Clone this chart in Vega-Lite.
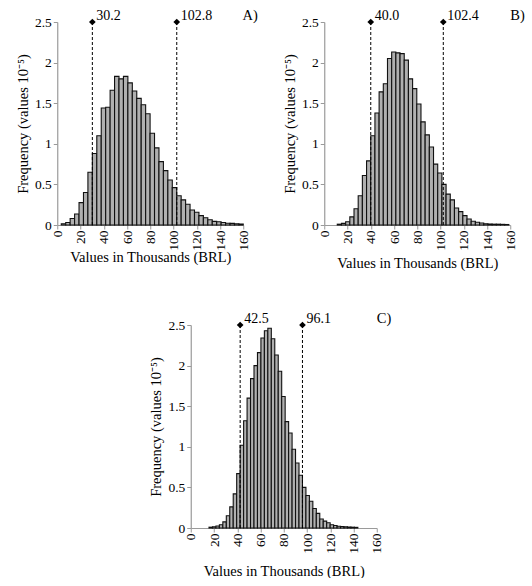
{
  "$schema": "https://vega.github.io/schema/vega-lite/v6.json",
  "padding": {"left": 15, "top": 7, "right": 5, "bottom": 0},
  "background": "white",
  "datasets": {
    "hist": [
      {"panel": "A", "lo": 3.46, "hi": 7.28, "freq": 0.015},
      {"panel": "A", "lo": 7.28, "hi": 11.10, "freq": 0.03},
      {"panel": "A", "lo": 11.10, "hi": 14.92, "freq": 0.08},
      {"panel": "A", "lo": 14.92, "hi": 18.74, "freq": 0.135},
      {"panel": "A", "lo": 18.74, "hi": 22.56, "freq": 0.275},
      {"panel": "A", "lo": 22.56, "hi": 26.38, "freq": 0.40},
      {"panel": "A", "lo": 26.38, "hi": 30.20, "freq": 0.65},
      {"panel": "A", "lo": 30.20, "hi": 34.02, "freq": 0.88},
      {"panel": "A", "lo": 34.02, "hi": 37.84, "freq": 1.10},
      {"panel": "A", "lo": 37.84, "hi": 41.66, "freq": 1.44},
      {"panel": "A", "lo": 41.66, "hi": 45.48, "freq": 1.45},
      {"panel": "A", "lo": 45.48, "hi": 49.30, "freq": 1.66},
      {"panel": "A", "lo": 49.30, "hi": 53.12, "freq": 1.83},
      {"panel": "A", "lo": 53.12, "hi": 56.94, "freq": 1.80},
      {"panel": "A", "lo": 56.94, "hi": 60.76, "freq": 1.83},
      {"panel": "A", "lo": 60.76, "hi": 64.58, "freq": 1.75},
      {"panel": "A", "lo": 64.58, "hi": 68.40, "freq": 1.65},
      {"panel": "A", "lo": 68.40, "hi": 72.22, "freq": 1.56},
      {"panel": "A", "lo": 72.22, "hi": 76.04, "freq": 1.48},
      {"panel": "A", "lo": 76.04, "hi": 79.86, "freq": 1.37},
      {"panel": "A", "lo": 79.86, "hi": 83.68, "freq": 1.13},
      {"panel": "A", "lo": 83.68, "hi": 87.50, "freq": 0.95},
      {"panel": "A", "lo": 87.50, "hi": 91.32, "freq": 0.78},
      {"panel": "A", "lo": 91.32, "hi": 95.14, "freq": 0.67},
      {"panel": "A", "lo": 95.14, "hi": 98.96, "freq": 0.555},
      {"panel": "A", "lo": 98.96, "hi": 102.78, "freq": 0.46},
      {"panel": "A", "lo": 102.78, "hi": 106.60, "freq": 0.36},
      {"panel": "A", "lo": 106.60, "hi": 110.42, "freq": 0.31},
      {"panel": "A", "lo": 110.42, "hi": 114.24, "freq": 0.255},
      {"panel": "A", "lo": 114.24, "hi": 118.06, "freq": 0.185},
      {"panel": "A", "lo": 118.06, "hi": 121.88, "freq": 0.157},
      {"panel": "A", "lo": 121.88, "hi": 125.70, "freq": 0.116},
      {"panel": "A", "lo": 125.70, "hi": 129.52, "freq": 0.09},
      {"panel": "A", "lo": 129.52, "hi": 133.34, "freq": 0.065},
      {"panel": "A", "lo": 133.34, "hi": 137.16, "freq": 0.045},
      {"panel": "A", "lo": 137.16, "hi": 140.98, "freq": 0.04},
      {"panel": "A", "lo": 140.98, "hi": 144.80, "freq": 0.03},
      {"panel": "A", "lo": 144.80, "hi": 148.62, "freq": 0.022},
      {"panel": "A", "lo": 148.62, "hi": 152.44, "freq": 0.02},
      {"panel": "A", "lo": 152.44, "hi": 156.26, "freq": 0.015},
      {"panel": "A", "lo": 156.26, "hi": 160.00, "freq": 0.012},

      {"panel": "B", "lo": 11.2, "hi": 14.8, "freq": 0.01},
      {"panel": "B", "lo": 14.8, "hi": 18.4, "freq": 0.02},
      {"panel": "B", "lo": 18.4, "hi": 22.0, "freq": 0.04},
      {"panel": "B", "lo": 22.0, "hi": 25.6, "freq": 0.10},
      {"panel": "B", "lo": 25.6, "hi": 29.2, "freq": 0.20},
      {"panel": "B", "lo": 29.2, "hi": 32.8, "freq": 0.36},
      {"panel": "B", "lo": 32.8, "hi": 36.4, "freq": 0.61},
      {"panel": "B", "lo": 36.4, "hi": 40.0, "freq": 0.79},
      {"panel": "B", "lo": 40.0, "hi": 43.6, "freq": 1.10},
      {"panel": "B", "lo": 43.6, "hi": 47.2, "freq": 1.38},
      {"panel": "B", "lo": 47.2, "hi": 50.8, "freq": 1.64},
      {"panel": "B", "lo": 50.8, "hi": 54.4, "freq": 1.74},
      {"panel": "B", "lo": 54.4, "hi": 58.0, "freq": 2.05},
      {"panel": "B", "lo": 58.0, "hi": 61.6, "freq": 2.13},
      {"panel": "B", "lo": 61.6, "hi": 65.2, "freq": 2.12},
      {"panel": "B", "lo": 65.2, "hi": 68.8, "freq": 2.11},
      {"panel": "B", "lo": 68.8, "hi": 72.4, "freq": 2.03},
      {"panel": "B", "lo": 72.4, "hi": 76.0, "freq": 1.80},
      {"panel": "B", "lo": 76.0, "hi": 79.6, "freq": 1.68},
      {"panel": "B", "lo": 79.6, "hi": 83.2, "freq": 1.49},
      {"panel": "B", "lo": 83.2, "hi": 86.8, "freq": 1.27},
      {"panel": "B", "lo": 86.8, "hi": 90.4, "freq": 1.11},
      {"panel": "B", "lo": 90.4, "hi": 94.0, "freq": 0.96},
      {"panel": "B", "lo": 94.0, "hi": 97.6, "freq": 0.75},
      {"panel": "B", "lo": 97.6, "hi": 101.2, "freq": 0.64},
      {"panel": "B", "lo": 101.2, "hi": 104.8, "freq": 0.50},
      {"panel": "B", "lo": 104.8, "hi": 108.4, "freq": 0.38},
      {"panel": "B", "lo": 108.4, "hi": 112.0, "freq": 0.31},
      {"panel": "B", "lo": 112.0, "hi": 115.6, "freq": 0.21},
      {"panel": "B", "lo": 115.6, "hi": 119.2, "freq": 0.165},
      {"panel": "B", "lo": 119.2, "hi": 122.8, "freq": 0.116},
      {"panel": "B", "lo": 122.8, "hi": 126.4, "freq": 0.074},
      {"panel": "B", "lo": 126.4, "hi": 130.0, "freq": 0.046},
      {"panel": "B", "lo": 130.0, "hi": 133.6, "freq": 0.033},
      {"panel": "B", "lo": 133.6, "hi": 137.2, "freq": 0.025},
      {"panel": "B", "lo": 137.2, "hi": 140.8, "freq": 0.016},
      {"panel": "B", "lo": 140.8, "hi": 144.4, "freq": 0.012},
      {"panel": "B", "lo": 144.4, "hi": 148.0, "freq": 0.01},
      {"panel": "B", "lo": 148.0, "hi": 151.6, "freq": 0.01},
      {"panel": "B", "lo": 151.6, "hi": 155.2, "freq": 0.008},
      {"panel": "B", "lo": 155.2, "hi": 158.8, "freq": 0.006},

      {"panel": "C", "lo": 15.70, "hi": 18.68, "freq": 0.01},
      {"panel": "C", "lo": 18.68, "hi": 21.66, "freq": 0.015},
      {"panel": "C", "lo": 21.66, "hi": 24.63, "freq": 0.025},
      {"panel": "C", "lo": 24.63, "hi": 27.61, "freq": 0.04},
      {"panel": "C", "lo": 27.61, "hi": 30.59, "freq": 0.075},
      {"panel": "C", "lo": 30.59, "hi": 33.57, "freq": 0.15},
      {"panel": "C", "lo": 33.57, "hi": 36.54, "freq": 0.26},
      {"panel": "C", "lo": 36.54, "hi": 39.52, "freq": 0.42},
      {"panel": "C", "lo": 39.52, "hi": 42.50, "freq": 0.67},
      {"panel": "C", "lo": 42.50, "hi": 45.48, "freq": 1.02},
      {"panel": "C", "lo": 45.48, "hi": 48.46, "freq": 1.32},
      {"panel": "C", "lo": 48.46, "hi": 51.43, "freq": 1.60},
      {"panel": "C", "lo": 51.43, "hi": 54.41, "freq": 1.84},
      {"panel": "C", "lo": 54.41, "hi": 57.39, "freq": 2.00},
      {"panel": "C", "lo": 57.39, "hi": 60.37, "freq": 2.16},
      {"panel": "C", "lo": 60.37, "hi": 63.34, "freq": 2.34},
      {"panel": "C", "lo": 63.34, "hi": 66.32, "freq": 2.43},
      {"panel": "C", "lo": 66.32, "hi": 69.30, "freq": 2.46},
      {"panel": "C", "lo": 69.30, "hi": 72.28, "freq": 2.33},
      {"panel": "C", "lo": 72.28, "hi": 75.26, "freq": 2.13},
      {"panel": "C", "lo": 75.26, "hi": 78.23, "freq": 1.93},
      {"panel": "C", "lo": 78.23, "hi": 81.21, "freq": 1.62},
      {"panel": "C", "lo": 81.21, "hi": 84.19, "freq": 1.31},
      {"panel": "C", "lo": 84.19, "hi": 87.17, "freq": 1.17},
      {"panel": "C", "lo": 87.17, "hi": 90.14, "freq": 0.97},
      {"panel": "C", "lo": 90.14, "hi": 93.12, "freq": 0.80},
      {"panel": "C", "lo": 93.12, "hi": 96.10, "freq": 0.65},
      {"panel": "C", "lo": 96.10, "hi": 99.08, "freq": 0.50},
      {"panel": "C", "lo": 99.08, "hi": 102.06, "freq": 0.40},
      {"panel": "C", "lo": 102.06, "hi": 105.03, "freq": 0.33},
      {"panel": "C", "lo": 105.03, "hi": 108.01, "freq": 0.24},
      {"panel": "C", "lo": 108.01, "hi": 110.99, "freq": 0.18},
      {"panel": "C", "lo": 110.99, "hi": 113.97, "freq": 0.11},
      {"panel": "C", "lo": 113.97, "hi": 116.94, "freq": 0.085},
      {"panel": "C", "lo": 116.94, "hi": 119.92, "freq": 0.065},
      {"panel": "C", "lo": 119.92, "hi": 122.90, "freq": 0.04},
      {"panel": "C", "lo": 122.90, "hi": 125.88, "freq": 0.03},
      {"panel": "C", "lo": 125.88, "hi": 128.86, "freq": 0.022},
      {"panel": "C", "lo": 128.86, "hi": 131.83, "freq": 0.018},
      {"panel": "C", "lo": 131.83, "hi": 134.81, "freq": 0.015},
      {"panel": "C", "lo": 134.81, "hi": 137.79, "freq": 0.012},
      {"panel": "C", "lo": 137.79, "hi": 140.77, "freq": 0.01},
      {"panel": "C", "lo": 140.77, "hi": 143.74, "freq": 0.008}
    ],
    "cuts": [
      {"panel": "A", "value": 30.2},
      {"panel": "A", "value": 102.8},
      {"panel": "B", "value": 40.0},
      {"panel": "B", "value": 102.4},
      {"panel": "C", "value": 42.5},
      {"panel": "C", "value": 96.1}
    ]
  },
  "vconcat": [
    {
      "hconcat": [
        {
          "width": 186, "height": 203,
          "title": {"text": "A)", "dx": 8},
          "layer": [
            {
              "data": {"name": "hist"},
              "transform": [{"filter": "datum.panel === 'A'"}],
              "mark": {"type": "bar", "fill": "#b0b0b0", "stroke": "#111111", "strokeWidth": 1.1},
              "encoding": {
                "x": {"field": "lo", "type": "quantitative", "scale": {"domain": [0, 160], "nice": false},
                      "axis": {"values": [0, 20, 40, 60, 80, 100, 120, 140, 160], "labelAngle": -90, "labelOverlap": false, "labelSeparation": 0, "labelFlush": false, "labelPadding": 1, "titlePadding": 0, "title": "Values in Thousands (BRL)"}},
                "x2": {"field": "hi"},
                "y": {"field": "freq", "type": "quantitative", "scale": {"domain": [0, 2.5], "nice": false},
                      "axis": {"values": [0, 0.5, 1, 1.5, 2, 2.5], "format": "~g", "title": "Frequency (values 10⁻⁵)"}},
                "y2": {"datum": 0}
              }
            },
            {
              "data": {"name": "cuts"},
              "transform": [{"filter": "datum.panel === 'A'"}],
              "mark": {"type": "rule", "color": "black", "strokeWidth": 1, "strokeDash": [3, 2]},
              "encoding": {
                "x": {"field": "value", "type": "quantitative",
                      "axis": {"values": [0, 20, 40, 60, 80, 100, 120, 140, 160], "labelAngle": -90, "labelOverlap": false, "labelSeparation": 0, "labelFlush": false, "labelPadding": 1, "titlePadding": 0, "title": "Values in Thousands (BRL)"}},
                "y": {"datum": 0}, "y2": {"datum": 2.5}
              }
            },
            {
              "data": {"name": "cuts"},
              "transform": [{"filter": "datum.panel === 'A'"}],
              "mark": {"type": "point", "shape": "diamond", "filled": true, "color": "black", "size": 45, "opacity": 1},
              "encoding": {
                "x": {"field": "value", "type": "quantitative",
                      "axis": {"values": [0, 20, 40, 60, 80, 100, 120, 140, 160], "labelAngle": -90, "labelOverlap": false, "labelSeparation": 0, "labelFlush": false, "labelPadding": 1, "titlePadding": 0, "title": "Values in Thousands (BRL)"}},
                "y": {"datum": 2.5}
              }
            },
            {
              "data": {"name": "cuts"},
              "transform": [{"filter": "datum.panel === 'A'"}],
              "mark": {"type": "text", "align": "left", "baseline": "alphabetic", "dx": 4, "dy": -2, "fontSize": 14, "font": "Liberation Serif"},
              "encoding": {
                "x": {"field": "value", "type": "quantitative",
                      "axis": {"values": [0, 20, 40, 60, 80, 100, 120, 140, 160], "labelAngle": -90, "labelOverlap": false, "labelSeparation": 0, "labelFlush": false, "labelPadding": 1, "titlePadding": 0, "title": "Values in Thousands (BRL)"}},
                "y": {"datum": 2.5},
                "text": {"field": "value", "format": ".1f"}
              }
            }
          ]
        },
        {
          "width": 186, "height": 203,
          "title": {"text": "B)", "dx": 8},
          "layer": [
            {
              "data": {"name": "hist"},
              "transform": [{"filter": "datum.panel === 'B'"}],
              "mark": {"type": "bar", "fill": "#b0b0b0", "stroke": "#111111", "strokeWidth": 1.1},
              "encoding": {
                "x": {"field": "lo", "type": "quantitative", "scale": {"domain": [0, 160], "nice": false},
                      "axis": {"values": [0, 20, 40, 60, 80, 100, 120, 140, 160], "labelAngle": -90, "labelOverlap": false, "labelSeparation": 0, "labelFlush": false, "labelPadding": 1, "titlePadding": 6, "title": "Values in Thousands (BRL)"}},
                "x2": {"field": "hi"},
                "y": {"field": "freq", "type": "quantitative", "scale": {"domain": [0, 2.5], "nice": false},
                      "axis": {"values": [0, 0.5, 1, 1.5, 2, 2.5], "format": "~g", "title": "Frequency (values 10⁻⁵)"}},
                "y2": {"datum": 0}
              }
            },
            {
              "data": {"name": "cuts"},
              "transform": [{"filter": "datum.panel === 'B'"}],
              "mark": {"type": "rule", "color": "black", "strokeWidth": 1, "strokeDash": [3, 2]},
              "encoding": {
                "x": {"field": "value", "type": "quantitative",
                      "axis": {"values": [0, 20, 40, 60, 80, 100, 120, 140, 160], "labelAngle": -90, "labelOverlap": false, "labelSeparation": 0, "labelFlush": false, "labelPadding": 1, "titlePadding": 6, "title": "Values in Thousands (BRL)"}},
                "y": {"datum": 0}, "y2": {"datum": 2.5}
              }
            },
            {
              "data": {"name": "cuts"},
              "transform": [{"filter": "datum.panel === 'B'"}],
              "mark": {"type": "point", "shape": "diamond", "filled": true, "color": "black", "size": 45, "opacity": 1},
              "encoding": {
                "x": {"field": "value", "type": "quantitative",
                      "axis": {"values": [0, 20, 40, 60, 80, 100, 120, 140, 160], "labelAngle": -90, "labelOverlap": false, "labelSeparation": 0, "labelFlush": false, "labelPadding": 1, "titlePadding": 6, "title": "Values in Thousands (BRL)"}},
                "y": {"datum": 2.5}
              }
            },
            {
              "data": {"name": "cuts"},
              "transform": [{"filter": "datum.panel === 'B'"}],
              "mark": {"type": "text", "align": "left", "baseline": "alphabetic", "dx": 4, "dy": -2, "fontSize": 14, "font": "Liberation Serif"},
              "encoding": {
                "x": {"field": "value", "type": "quantitative",
                      "axis": {"values": [0, 20, 40, 60, 80, 100, 120, 140, 160], "labelAngle": -90, "labelOverlap": false, "labelSeparation": 0, "labelFlush": false, "labelPadding": 1, "titlePadding": 6, "title": "Values in Thousands (BRL)"}},
                "y": {"datum": 2.5},
                "text": {"field": "value", "format": ".1f"}
              }
            }
          ]
        }
      ],
      "spacing": 24
    },
    {
      "width": 186, "height": 203,
      "title": {"text": "C)", "dx": 8},
      "layer": [
        {
          "data": {"name": "hist"},
          "transform": [{"filter": "datum.panel === 'C'"}],
          "mark": {"type": "bar", "fill": "#b0b0b0", "stroke": "#111111", "strokeWidth": 1.1},
          "encoding": {
            "x": {"field": "lo", "type": "quantitative", "scale": {"domain": [0, 160], "nice": false},
                  "axis": {"values": [0, 20, 40, 60, 80, 100, 120, 140, 160], "labelAngle": -90, "labelOverlap": false, "labelSeparation": 0, "labelFlush": false, "labelPadding": 1, "titlePadding": 11, "title": "Values in Thousands (BRL)"}},
            "x2": {"field": "hi"},
            "y": {"field": "freq", "type": "quantitative", "scale": {"domain": [0, 2.5], "nice": false},
                  "axis": {"values": [0, 0.5, 1, 1.5, 2, 2.5], "format": "~g", "title": "Frequency (values 10⁻⁵)"}},
            "y2": {"datum": 0}
          }
        },
        {
          "data": {"name": "cuts"},
          "transform": [{"filter": "datum.panel === 'C'"}],
          "mark": {"type": "rule", "color": "black", "strokeWidth": 1, "strokeDash": [3, 2]},
          "encoding": {
            "x": {"field": "value", "type": "quantitative",
                  "axis": {"values": [0, 20, 40, 60, 80, 100, 120, 140, 160], "labelAngle": -90, "labelOverlap": false, "labelSeparation": 0, "labelFlush": false, "labelPadding": 1, "titlePadding": 11, "title": "Values in Thousands (BRL)"}},
            "y": {"datum": 0}, "y2": {"datum": 2.5}
          }
        },
        {
          "data": {"name": "cuts"},
          "transform": [{"filter": "datum.panel === 'C'"}],
          "mark": {"type": "point", "shape": "diamond", "filled": true, "color": "black", "size": 45, "opacity": 1},
          "encoding": {
            "x": {"field": "value", "type": "quantitative",
                  "axis": {"values": [0, 20, 40, 60, 80, 100, 120, 140, 160], "labelAngle": -90, "labelOverlap": false, "labelSeparation": 0, "labelFlush": false, "labelPadding": 1, "titlePadding": 11, "title": "Values in Thousands (BRL)"}},
            "y": {"datum": 2.5}
          }
        },
        {
          "data": {"name": "cuts"},
          "transform": [{"filter": "datum.panel === 'C'"}],
          "mark": {"type": "text", "align": "left", "baseline": "alphabetic", "dx": 4, "dy": -2, "fontSize": 14, "font": "Liberation Serif"},
          "encoding": {
            "x": {"field": "value", "type": "quantitative",
                  "axis": {"values": [0, 20, 40, 60, 80, 100, 120, 140, 160], "labelAngle": -90, "labelOverlap": false, "labelSeparation": 0, "labelFlush": false, "labelPadding": 1, "titlePadding": 11, "title": "Values in Thousands (BRL)"}},
            "y": {"datum": 2.5},
            "text": {"field": "value", "format": ".1f"}
          }
        }
      ]
    }
  ],
  "spacing": 40,
  "center": true,
  "config": {
    "font": "Liberation Serif",
    "view": {"stroke": null},
    "title": {"anchor": "end", "fontSize": 14.5, "fontWeight": "normal", "font": "Liberation Serif", "color": "black", "offset": -14},
    "axis": {
      "grid": false,
      "domainColor": "#9a9a9a",
      "domainWidth": 1.2,
      "tickColor": "#9a9a9a",
      "tickSize": 4,
      "labelOverlap": false,
      "labelFlush": false,
      "labelFont": "Liberation Serif",
      "labelFontSize": 13.5,
      "labelColor": "black",
      "titleFont": "Liberation Serif",
      "titleFontSize": 14.5,
      "titleFontWeight": "normal",
      "titleColor": "black"
    }
  }
}
